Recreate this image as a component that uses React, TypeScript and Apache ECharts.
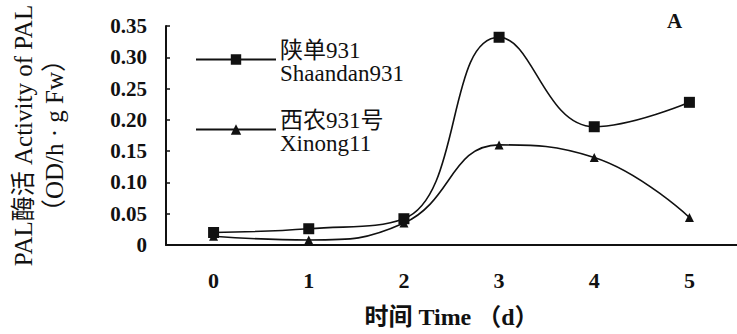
import React, { useEffect, useRef } from "react";
import * as echarts from "echarts";

// Days after treatment
const days = ["0", "1", "2", "3", "4", "5"];

// PAL activity (OD/h·g Fw) for the two cultivars
const shaandan931 = [0.02, 0.026, 0.042, 0.332, 0.189, 0.228];
const xinong11 = [0.014, 0.008, 0.035, 0.16, 0.14, 0.044];

const namesZh = ["陕单931", "西农931号"];
const namesEn = ["Shaandan931", "Xinong11"];

const yTicks = { min: 0, max: 0.35, interval: 0.05 };

const FONT = "'Liberation Serif', 'Times New Roman', 'Noto Sans CJK SC', serif";
const INK = "#111";

// vertical placement of the two legend entries
const legendTops = [36, 106];

export default function App() {
  const ref = useRef<HTMLDivElement>(null);

  useEffect(() => {
    if (!ref.current) return;
    const chart = echarts.init(ref.current, undefined, { renderer: "svg" });

    // legend draws the line+marker icons; the captions are serif text beside them
    const legendFor = (i: number) => ({
      data: [namesZh[i]],
      left: 195,
      top: legendTops[i] + 17,
      itemWidth: 80,
      itemHeight: 13,
      padding: 0,
      formatter: () => "",
    });

    const captionFont = "normal normal 23px 'Liberation Serif', 'Times New Roman', 'Noto Sans CJK SC', serif";
    const captions = namesZh.flatMap((zh, i) => [
      {
        type: "text",
        left: 280,
        top: legendTops[i] + 3,
        style: { text: zh, font: captionFont, fontFamily: FONT, fontSize: 23, fontWeight: "normal", fill: INK },
      },
      {
        type: "text",
        left: 280,
        top: legendTops[i] + 26,
        style: { text: namesEn[i], font: captionFont, fontFamily: FONT, fontSize: 23, fontWeight: "normal", fill: INK },
      },
    ]);

    chart.setOption({
      animation: false,
      backgroundColor: "#fff",
      textStyle: { fontFamily: FONT, color: INK },
      title: {
        text: "A",
        left: 662,
        top: 5,
        textStyle: { fontFamily: FONT, fontSize: 21, fontWeight: "bold", color: INK },
      },
      legend: [legendFor(0), legendFor(1)],
      graphic: captions,
      grid: { left: 163, top: 26, right: -6, bottom: 87, containLabel: false },
      xAxis: {
        type: "category",
        data: days,
        boundaryGap: true,
        name: "时间 Time （d）",
        nameLocation: "middle",
        nameGap: 60,
        nameTextStyle: { fontFamily: FONT, fontSize: 24, fontWeight: "bold", color: INK },
        axisLine: { lineStyle: { color: INK, width: 2 } },
        axisTick: { inside: true, length: 4, alignWithLabel: false, lineStyle: { color: INK, width: 1.5 } },
        axisLabel: { fontFamily: FONT, fontSize: 22, fontWeight: "bold", color: INK, margin: 24 },
        splitLine: { show: false },
      },
      yAxis: {
        type: "value",
        min: yTicks.min,
        max: yTicks.max,
        interval: yTicks.interval,
        name: "PAL酶活 Activity of PAL\n（OD/h · g Fw）",
        nameLocation: "middle",
        nameRotate: 90,
        nameGap: 96,
        nameTextStyle: { fontFamily: FONT, fontSize: 25, lineHeight: 31, color: INK },
        axisLine: { show: true, lineStyle: { color: INK, width: 2 } },
        axisTick: { show: true, inside: true, length: 4, lineStyle: { color: INK, width: 1.5 } },
        axisLabel: {
          fontFamily: FONT,
          fontSize: 21,
          fontWeight: "bold",
          color: INK,
          margin: 19,
          formatter: (v: number) => (v === 0 ? "0" : v.toFixed(2)),
        },
        splitLine: { show: false },
      },
      series: [
        {
          name: namesZh[0],
          type: "line",
          data: shaandan931,
          smooth: 0.45,
          symbol: "rect",
          symbolSize: 11,
          lineStyle: { color: INK, width: 1.6 },
          itemStyle: { color: INK },
        },
        {
          name: namesZh[1],
          type: "line",
          data: xinong11,
          smooth: 0.45,
          symbol: "triangle",
          symbolSize: 9,
          lineStyle: { color: INK, width: 1.6 },
          itemStyle: { color: INK },
        },
      ],
    });

    return () => chart.dispose();
  }, []);

  return (
    <div
      ref={ref}
      style={{ position: "absolute", left: 0, top: 0, width: 737, height: 334 }}
    />
  );
}
